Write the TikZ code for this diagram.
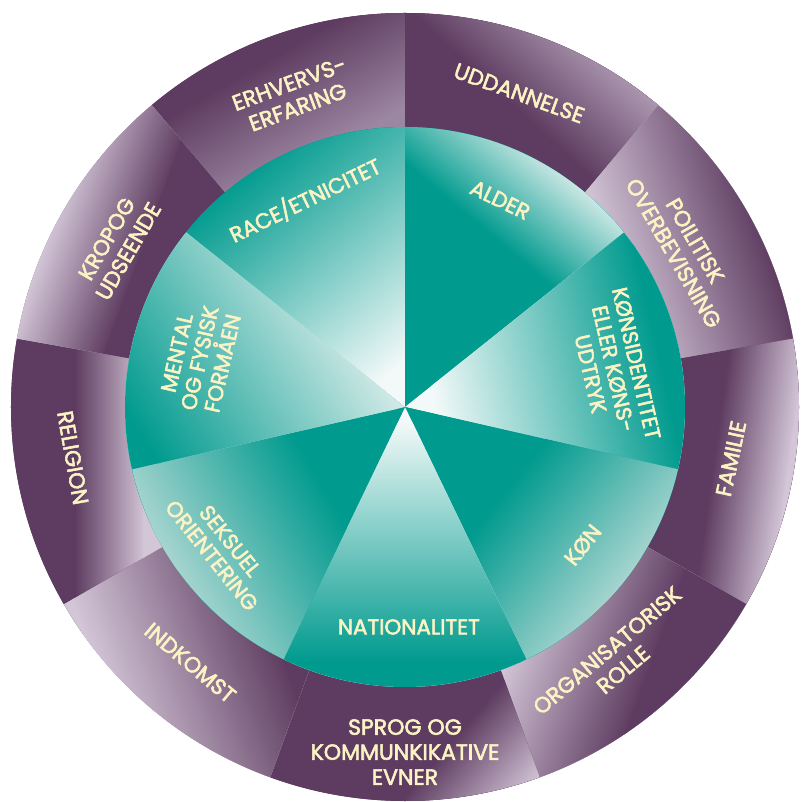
\documentclass[tikz,border=0pt]{standalone}
\usepackage{fontspec}
\newfontfamily\lab{Poppins}[FakeBold=2.5]
\definecolor{pd}{HTML}{5E3C61}
\definecolor{pl}{HTML}{D3C6D7}
\definecolor{pm}{HTML}{9C87A2}
\definecolor{tk}{HTML}{009A8E}
\definecolor{tl}{HTML}{A6D4CF}
\definecolor{tm}{HTML}{CDE8E5}
\definecolor{tw}{HTML}{F2F9F8}
\definecolor{txt}{HTML}{FBF3C4}
% #1 start angle, #2 end angle, #3 radius, #4 gradient start point, #5 gradient direction, #6 gradient length, #7 colour A, #8 colour B
\newcommand\gradfill[8]{%
  \begin{scope}
    \clip (0,0) -- (#1:#3) arc[start angle=#1,end angle=#2,radius=#3] -- cycle;
    \fill[#7] (-450,-450) rectangle (450,450);
    \begin{scope}[transform canvas={shift={#4},rotate=#5}]
      \shade[left color=#7,right color=#8] (0,-900) rectangle (#6,900);
      \fill[#8] (#6-1.5,-900) rectangle (1500,900);
    \end{scope}
  \end{scope}}
\tikzset{
  ol/.style={text=txt,font=\lab\fontsize{22}{25}\selectfont,align=center,inner sep=0pt},
  il/.style={text=txt,font=\lab\fontsize{21.5}{23.5}\selectfont,align=center,inner sep=0pt}
}
\begin{document}
\begin{tikzpicture}[x=1pt,y=1pt]
\useasboundingbox (-405,-395) rectangle (395,407);
\fill[pd] (0,0) circle (394);
% outer ring segments
\gradfill{130}{90}{394}{(-115,360)}{-60}{110}{pd}{pm}
\gradfill{90}{50}{394}{(175,240)}{47.5}{150}{pd}{pl}
\gradfill{50}{10}{394}{(215,107)}{18}{158}{pl}{pd}
\gradfill{10}{-30}{394}{(310,-43)}{-8}{76}{pd}{pl}
\gradfill{-30}{-70}{394}{(169,-62)}{-20}{140}{pl}{pd}
\gradfill{-70}{-110}{394}{(65,-313)}{-40.6}{92}{pd}{pl}
\gradfill{-110}{-150}{394}{(-357,-130)}{20}{180}{pl}{pd}
\gradfill{-150}{-190}{394}{(-330,0)}{0}{70}{pd}{pl}
\gradfill{170}{130}{394}{(-371,135)}{-20}{95}{pl}{pd}
% inner wheel
\fill[tk] (0,0) circle (280);
\gradfill{141.43}{90}{280}{(-185,217)}{-49.6}{250}{tk}{tw}
\gradfill{90}{38.57}{280}{(115,147)}{50}{95}{tk}{tm}
\gradfill{38.57}{-12.86}{280}{(12.86:30)}{12.86}{230}{tw}{tk}
\gradfill{-12.86}{-64.29}{280}{(-38.57:130)}{-38.57}{150}{tk}{tl}
\gradfill{-64.29}{-115.71}{280}{(0,-15)}{-90}{240}{tw}{tk}
\gradfill{-115.71}{-167.14}{280}{(-150:110)}{-150}{170}{tk}{tl}
\gradfill{192.86}{141.43}{280}{(-85,117)}{213}{230}{tm}{tk}
% outer labels
\node[ol,rotate=20] (erh) at (109.7:331) {ERHVERVS-\\ERFARING};
\node[ol,rotate=-20] (udd) at (70:334) {UDDANNELSE};
\node[ol,rotate=-60] (pol) at (29.8:322) {POILITISK\\OVERBEVISNING};
\node[ol,rotate=78] (fam) at (-9:330) {FAMILIE};
\node[ol,rotate=40] (org) at (-50.3:329) {ORGANISATORISK\\ROLLE};
\node[ol] (spr) at (-90:345) {SPROG OG\\KOMMUNKIKATIVE\\EVNER};
\node[ol,rotate=-40] (ind) at (-130:334) {INDKOMST};
\node[ol,rotate=-80] (rel) at (-171.3:336) {RELIGION};
\node[ol,rotate=60] (krop) at (150.6:330) {KROPOG\\UDSEENDE};
% inner labels
\node[il,rotate=-25.71] (ald) at (65.3:228) {ALDER};
\node[il,rotate=-77.14] (kid) at (10.4:212) {KØNSIDENTITET\\ELLER KØNS-\\UDTRYK};
\node[il,rotate=51.43] (kon) at (-37.8:225) {KØN};
\node[il] (nat) at (-89:220) {NATIONALITET};
\node[il,rotate=-51.43] (sek) at (217.5:232) {SEKSUEL\\ORIENTERING};
\node[il,rotate=77.14] (men) at (166.6:211) {MENTAL\\OG FYSISK\\FORMÅEN};
\node[il,rotate=25.71] (race) at (115.8:230) {RACE/ETNICITET};
\end{tikzpicture}
\end{document}
